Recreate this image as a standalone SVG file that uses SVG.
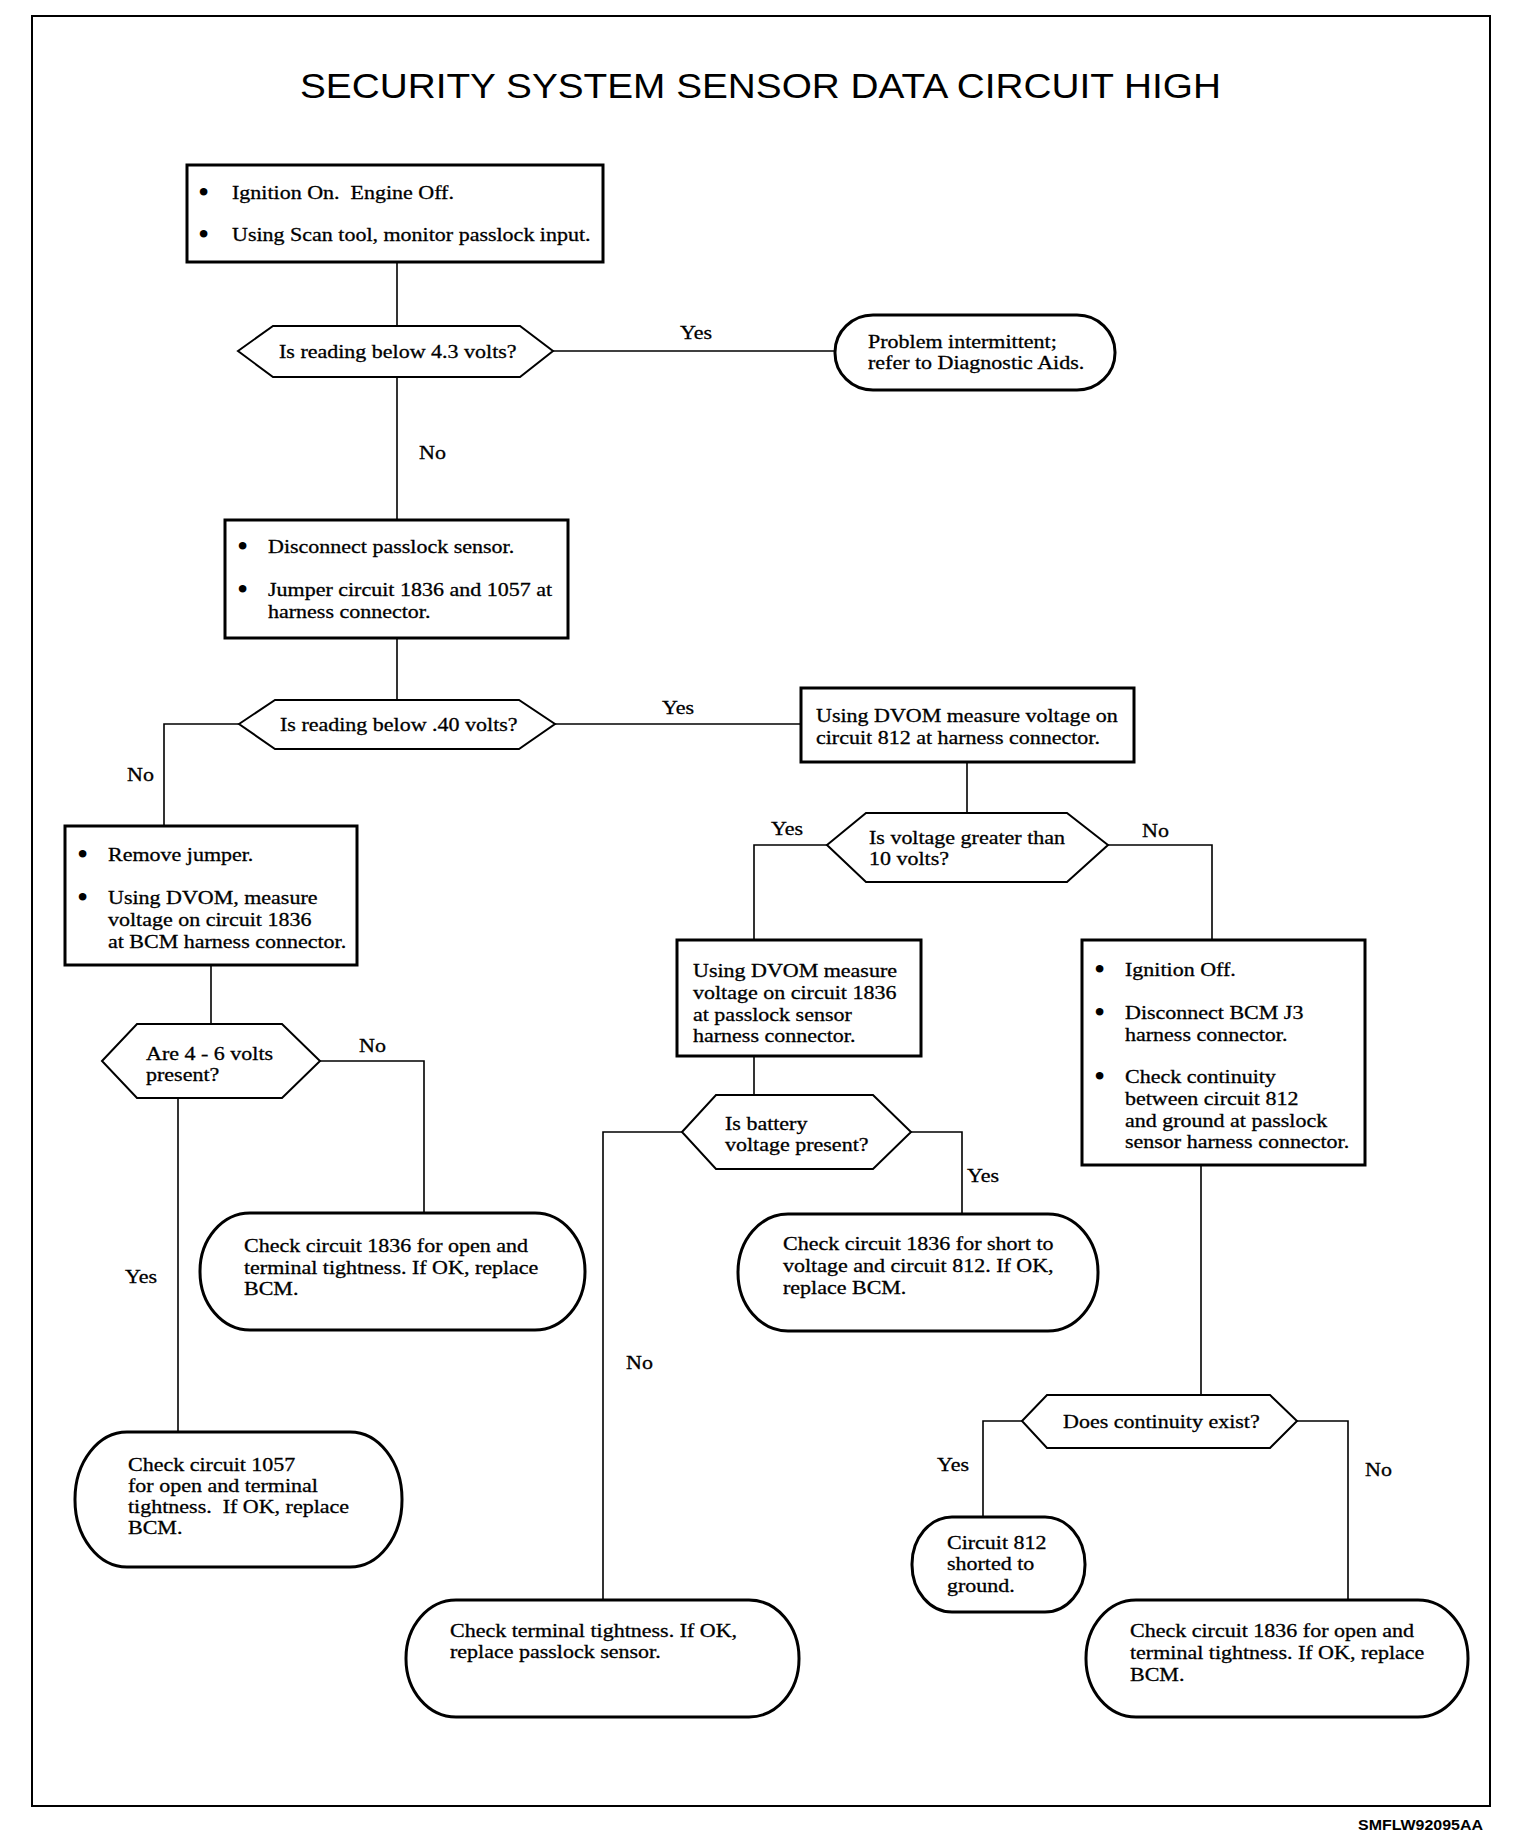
<svg xmlns="http://www.w3.org/2000/svg" width="1536" height="1844" viewBox="0 0 1536 1844">
<style>
.t{font-family:"Liberation Serif","Times New Roman",serif;font-size:19px;fill:#000;stroke:#000;stroke-width:0.3}
.b{font-family:"Liberation Serif","Times New Roman",serif;font-size:32px;fill:#000}
.box{fill:#fff;stroke:#000;stroke-width:3}
.hex{fill:#fff;stroke:#000;stroke-width:2}
.term{fill:#fff;stroke:#000;stroke-width:3}
.ln{fill:none;stroke:#000;stroke-width:1.6}
</style>
<rect x="0" y="0" width="1536" height="1844" fill="#fff"/>
<rect x="32" y="16" width="1458" height="1790" fill="none" stroke="#000" stroke-width="2"/>
<text x="300" y="98" font-family="Liberation Sans, Arial, sans-serif" font-size="35" textLength="921" lengthAdjust="spacingAndGlyphs">SECURITY SYSTEM SENSOR DATA CIRCUIT HIGH</text>

<g id="connectors">
<path class="ln" d="M397 262 V326"/>
<path class="ln" d="M553 351 H835"/>
<path class="ln" d="M397 377 V520"/>
<path class="ln" d="M397 638 V700"/>
<path class="ln" d="M555 724 H801"/>
<path class="ln" d="M239 724 H164 V826"/>
<path class="ln" d="M967 762 V813"/>
<path class="ln" d="M827 845 H754 V940"/>
<path class="ln" d="M1108 845 H1212 V940"/>
<path class="ln" d="M211 965 V1024"/>
<path class="ln" d="M320 1061 H424 V1213"/>
<path class="ln" d="M178 1098 V1432"/>
<path class="ln" d="M754 1056 V1095"/>
<path class="ln" d="M682 1132 H603 V1600"/>
<path class="ln" d="M911 1132 H962 V1214"/>
<path class="ln" d="M1201 1165 V1395"/>
<path class="ln" d="M1022 1421 H983 V1517"/>
<path class="ln" d="M1297 1421 H1348 V1600"/>
<text class="t" transform="matrix(1.158 0 0 1 680 339)">Yes</text>
<text class="t" transform="matrix(1.158 0 0 1 419 459)">No</text>
<text class="t" transform="matrix(1.158 0 0 1 662 714)">Yes</text>
<text class="t" transform="matrix(1.158 0 0 1 127 781)">No</text>
<text class="t" transform="matrix(1.158 0 0 1 771 835)">Yes</text>
<text class="t" transform="matrix(1.158 0 0 1 1142 837)">No</text>
<text class="t" transform="matrix(1.158 0 0 1 359 1052)">No</text>
<text class="t" transform="matrix(1.158 0 0 1 125 1283)">Yes</text>
<text class="t" transform="matrix(1.158 0 0 1 967 1182)">Yes</text>
<text class="t" transform="matrix(1.158 0 0 1 626 1369)">No</text>
<text class="t" transform="matrix(1.158 0 0 1 937 1471)">Yes</text>
<text class="t" transform="matrix(1.158 0 0 1 1365 1476)">No</text>
</g>

<g id="box1">
<rect class="box" x="187" y="165" width="416" height="97"/>
<text class="b" x="198" y="203">•</text><text class="t" transform="matrix(1.158 0 0 1 232 199)">Ignition On.&#160; Engine Off.</text>
<text class="b" x="198" y="245">•</text><text class="t" transform="matrix(1.158 0 0 1 232 241)">Using Scan tool, monitor passlock input.</text>
</g>

<g id="dec1">
<polygon class="hex" points="238,351 273,326 520,326 553,351 520,377 273,377"/>
<text class="t" transform="matrix(1.158 0 0 1 279 358)">Is reading below 4.3 volts?</text>
</g>

<g id="term1">
<rect class="term" x="835" y="315" width="280" height="75" rx="38" ry="37"/>
<text class="t" transform="matrix(1.158 0 0 1 868 348)">Problem intermittent;</text>
<text class="t" transform="matrix(1.158 0 0 1 868 369)">refer to Diagnostic Aids.</text>
</g>

<g id="box2">
<rect class="box" x="225" y="520" width="343" height="118"/>
<text class="b" x="237" y="557">•</text><text class="t" transform="matrix(1.158 0 0 1 268 553)">Disconnect passlock sensor.</text>
<text class="b" x="237" y="600">•</text><text class="t" transform="matrix(1.158 0 0 1 268 596)">Jumper circuit 1836 and 1057 at</text>
<text class="t" transform="matrix(1.158 0 0 1 268 618)">harness connector.</text>
</g>

<g id="dec2">
<polygon class="hex" points="239,724 275,700 519,700 555,724 519,749 275,749"/>
<text class="t" transform="matrix(1.158 0 0 1 280 731)">Is reading below .40 volts?</text>
</g>

<g id="box3">
<rect class="box" x="801" y="688" width="333" height="74"/>
<text class="t" transform="matrix(1.158 0 0 1 816 722)">Using DVOM measure voltage on</text>
<text class="t" transform="matrix(1.158 0 0 1 816 744)">circuit 812 at harness connector.</text>
</g>

<g id="box4">
<rect class="box" x="65" y="826" width="292" height="139"/>
<text class="b" x="77" y="865">•</text><text class="t" transform="matrix(1.158 0 0 1 108 861)">Remove jumper.</text>
<text class="b" x="77" y="908">•</text><text class="t" transform="matrix(1.158 0 0 1 108 904)">Using DVOM, measure</text>
<text class="t" transform="matrix(1.158 0 0 1 108 926)">voltage on circuit 1836</text>
<text class="t" transform="matrix(1.158 0 0 1 108 948)">at BCM harness connector.</text>
</g>

<g id="dec3">
<polygon class="hex" points="827,845 866,813 1067,813 1108,845 1067,882 866,882"/>
<text class="t" transform="matrix(1.158 0 0 1 869 844)">Is voltage greater than</text>
<text class="t" transform="matrix(1.158 0 0 1 869 865)">10 volts?</text>
</g>

<g id="box5">
<rect class="box" x="677" y="940" width="244" height="116"/>
<text class="t" transform="matrix(1.158 0 0 1 693 977)">Using DVOM measure</text>
<text class="t" transform="matrix(1.158 0 0 1 693 999)">voltage on circuit 1836</text>
<text class="t" transform="matrix(1.158 0 0 1 693 1021)">at passlock sensor</text>
<text class="t" transform="matrix(1.158 0 0 1 693 1042)">harness connector.</text>
</g>

<g id="box6">
<rect class="box" x="1082" y="940" width="283" height="225"/>
<text class="b" x="1094" y="980">•</text><text class="t" transform="matrix(1.158 0 0 1 1125 976)">Ignition Off.</text>
<text class="b" x="1094" y="1023">•</text><text class="t" transform="matrix(1.158 0 0 1 1125 1019)">Disconnect BCM J3</text>
<text class="t" transform="matrix(1.158 0 0 1 1125 1041)">harness connector.</text>
<text class="b" x="1094" y="1087">•</text><text class="t" transform="matrix(1.158 0 0 1 1125 1083)">Check continuity</text>
<text class="t" transform="matrix(1.158 0 0 1 1125 1105)">between circuit 812</text>
<text class="t" transform="matrix(1.158 0 0 1 1125 1127)">and ground at passlock</text>
<text class="t" transform="matrix(1.158 0 0 1 1125 1148)">sensor harness connector.</text>
</g>

<g id="dec6">
<polygon class="hex" points="102,1061 137,1024 282,1024 320,1061 282,1098 137,1098"/>
<text class="t" transform="matrix(1.158 0 0 1 146 1060)">Are 4 - 6 volts</text>
<text class="t" transform="matrix(1.158 0 0 1 146 1081)">present?</text>
</g>

<g id="dec4">
<polygon class="hex" points="682,1132 716,1095 873,1095 911,1132 873,1169 716,1169"/>
<text class="t" transform="matrix(1.158 0 0 1 725 1130)">Is battery</text>
<text class="t" transform="matrix(1.158 0 0 1 725 1151)">voltage present?</text>
</g>

<g id="termA">
<rect class="term" x="200" y="1213" width="385" height="117" rx="50" ry="58"/>
<text class="t" transform="matrix(1.158 0 0 1 244 1252)">Check circuit 1836 for open and</text>
<text class="t" transform="matrix(1.158 0 0 1 244 1274)">terminal tightness. If OK, replace</text>
<text class="t" transform="matrix(1.158 0 0 1 244 1295)">BCM.</text>
</g>

<g id="termC">
<rect class="term" x="738" y="1214" width="360" height="117" rx="50" ry="58"/>
<text class="t" transform="matrix(1.158 0 0 1 783 1250)">Check circuit 1836 for short to</text>
<text class="t" transform="matrix(1.158 0 0 1 783 1272)">voltage and circuit 812. If OK,</text>
<text class="t" transform="matrix(1.158 0 0 1 783 1294)">replace BCM.</text>
</g>

<g id="dec5">
<polygon class="hex" points="1022,1421 1047,1395 1270,1395 1297,1421 1270,1448 1047,1448"/>
<text class="t" transform="matrix(1.158 0 0 1 1063 1428)">Does continuity exist?</text>
</g>

<g id="termB">
<rect class="term" x="75" y="1432" width="327" height="135" rx="52" ry="67"/>
<text class="t" transform="matrix(1.158 0 0 1 128 1471)">Check circuit 1057</text>
<text class="t" transform="matrix(1.158 0 0 1 128 1492)">for open and terminal</text>
<text class="t" transform="matrix(1.158 0 0 1 128 1513)">tightness.&#160; If OK, replace</text>
<text class="t" transform="matrix(1.158 0 0 1 128 1534)">BCM.</text>
</g>

<g id="termD">
<rect class="term" x="912" y="1517" width="173" height="95" rx="40" ry="47"/>
<text class="t" transform="matrix(1.158 0 0 1 947 1549)">Circuit 812</text>
<text class="t" transform="matrix(1.158 0 0 1 947 1570)">shorted to</text>
<text class="t" transform="matrix(1.158 0 0 1 947 1592)">ground.</text>
</g>

<g id="termF">
<rect class="term" x="406" y="1600" width="393" height="117" rx="50" ry="58"/>
<text class="t" transform="matrix(1.158 0 0 1 450 1637)">Check terminal tightness. If OK,</text>
<text class="t" transform="matrix(1.158 0 0 1 450 1658)">replace passlock sensor.</text>
</g>

<g id="termE">
<rect class="term" x="1086" y="1600" width="382" height="117" rx="50" ry="58"/>
<text class="t" transform="matrix(1.158 0 0 1 1130 1637)">Check circuit 1836 for open and</text>
<text class="t" transform="matrix(1.158 0 0 1 1130 1659)">terminal tightness. If OK, replace</text>
<text class="t" transform="matrix(1.158 0 0 1 1130 1681)">BCM.</text>
</g>

<text x="1358" y="1830" font-family="Liberation Sans, Arial, sans-serif" font-size="15" font-weight="bold" textLength="125" lengthAdjust="spacingAndGlyphs">SMFLW92095AA</text>
</svg>
